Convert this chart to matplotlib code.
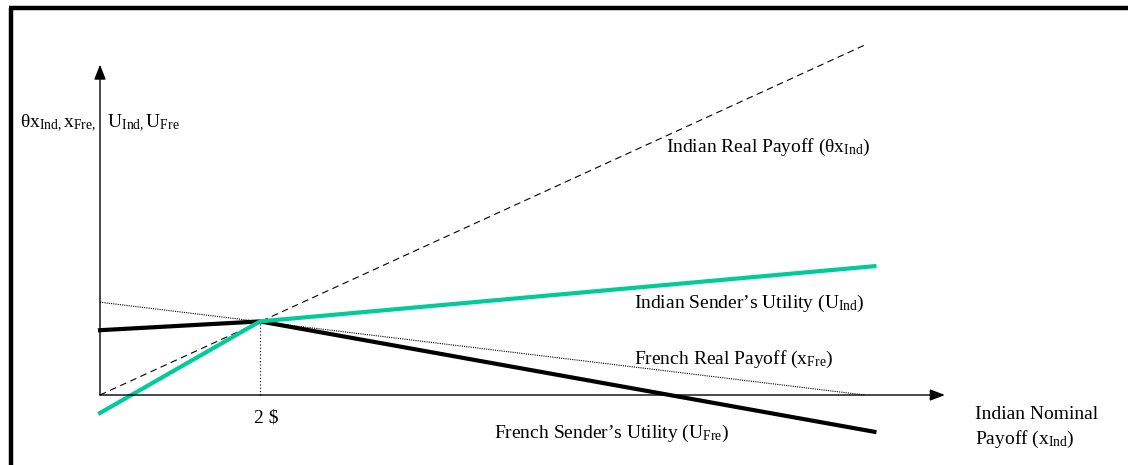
import matplotlib.pyplot as plt

plt.rcParams['font.family'] = 'Liberation Serif'
plt.rcParams['mathtext.fontset'] = 'custom'
plt.rcParams['mathtext.rm'] = 'Liberation Serif'
plt.rcParams['mathtext.it'] = 'Liberation Serif'

# kinked payoff/utility curves (x = Indian nominal payoff)
kink_x = [0, 2, 9.68]
indian_utility = [-0.225, 0.92, 1.61]
french_utility = [0.81, 0.92, -0.46]

# straight real payoff lines
real_x = [0, 9.56]
indian_real = [0, 4.375]
french_real = [1.16, 0]

fig = plt.figure(figsize=(11.28, 4.65), dpi=100)
ax = fig.add_axes([0, 0, 1, 1])
ax.set_xlim(-1.25, 12.85)
ax.set_ylim(-0.875, 4.9375)
ax.axis('off')

# frame round the picture
ax.plot([0.008, 1.0], [0.982, 0.982], color='black', lw=3.2, transform=ax.transAxes, solid_capstyle='butt')
ax.plot([0.0095, 0.0095], [0.0, 0.982], color='black', lw=3.2, transform=ax.transAxes, solid_capstyle='butt')

# axes with arrows
ax.annotate('', xy=(10.56, 0), xytext=(0, 0),
            arrowprops=dict(arrowstyle='-|>,head_length=0.9,head_width=0.35', color='black', lw=1.0, shrinkA=0, shrinkB=0))
ax.annotate('', xy=(0, 4.13), xytext=(0, 0),
            arrowprops=dict(arrowstyle='-|>,head_length=0.9,head_width=0.35', color='black', lw=1.0, shrinkA=0, shrinkB=0))

ax.plot(real_x, indian_real, color='black', lw=0.8, ls=(0, (6, 4)))
ax.plot(real_x, french_real, color='black', lw=0.8, ls=(0, (1, 1)))
ax.plot([kink_x[1], kink_x[1]], [0, french_utility[1]], color='black', lw=0.8, ls=(0, (1, 2)))
ax.plot(kink_x, french_utility, color='black', lw=3.0)
ax.plot(kink_x, indian_utility, color='#00CC99', lw=3.0)

fs = 14
ax.text(-1.0, 3.39, r'θx$_{\rm Ind,}$x$_{\rm Fre,}$  U$_{\rm Ind,}$U$_{\rm Fre}$', fontsize=fs, va='center')
ax.text(7.07, 3.10, r'Indian Real Payoff (θx$_{\rm Ind}$)', fontsize=fs, va='center')
ax.text(6.68, 1.15, r'Indian Sender’s Utility (U$_{\rm Ind}$)', fontsize=fs, va='center')
ax.text(6.68, 0.45, r'French Real Payoff (x$_{\rm Fre}$)', fontsize=fs, va='center')
ax.text(2.08, -0.29, '2 $', fontsize=fs, va='center', ha='center')
ax.text(4.92, -0.48, r'French Sender’s Utility (U$_{\rm Fre}$)', fontsize=fs, va='center')
ax.text(10.94, -0.24, 'Indian Nominal', fontsize=fs, va='center')
ax.text(10.94, -0.55, r'Payoff (x$_{\rm Ind}$)', fontsize=fs, va='center')

fig.savefig('out.png', dpi=100)
